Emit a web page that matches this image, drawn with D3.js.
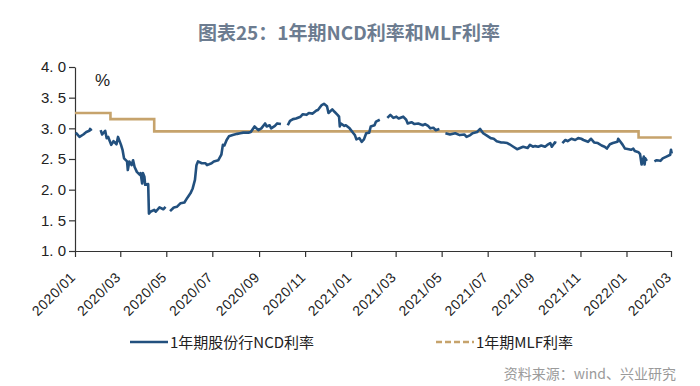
<!DOCTYPE html>
<html>
<head>
<meta charset="utf-8">
<script src="https://cdn.jsdelivr.net/npm/d3@7"></script>
<style>
  body { margin: 0; background: #fff; }
  svg { display: block; }
</style>
</head>
<body>
<svg id="chart" width="700" height="386"></svg>
<script>
// y axis ticks and x axis tick labels
var yTicks = [1.0, 1.5, 2.0, 2.5, 3.0, 3.5, 4.0];
var xTickLabels = ['2020/01', '2020/03', '2020/05', '2020/07', '2020/09', '2020/11',
  '2021/01', '2021/03', '2021/05', '2021/07', '2021/09', '2021/11', '2022/01', '2022/03'];

// 1Y joint-stock bank NCD rate, null = holiday gap
var ncd = [
  ['2020-01-02', 2.93], ['2020-01-07', 2.86], ['2020-01-12', 2.90], ['2020-01-16', 2.94],
  ['2020-01-20', 2.96], ['2020-01-21', 2.99], ['2020-01-23', 2.96], ['2020-01-28', null],
  ['2020-02-04', 2.97], ['2020-02-06', 2.90], ['2020-02-10', 2.96], ['2020-02-12', 2.84],
  ['2020-02-14', 2.86], ['2020-02-18', 2.73], ['2020-02-21', 2.79], ['2020-02-25', 2.74],
  ['2020-02-27', 2.86], ['2020-03-02', 2.73], ['2020-03-04', 2.65], ['2020-03-06', 2.51],
  ['2020-03-10', 2.46], ['2020-03-11', 2.32], ['2020-03-13', 2.46], ['2020-03-16', 2.40],
  ['2020-03-18', 2.48], ['2020-03-20', 2.37], ['2020-03-23', 2.29], ['2020-03-27', 2.24],
  ['2020-03-28', 2.27], ['2020-03-30', 2.10], ['2020-03-31', 2.27], ['2020-04-02', 2.21],
  ['2020-04-03', 2.08], ['2020-04-07', 2.09], ['2020-04-08', 1.61], ['2020-04-10', 1.64],
  ['2020-04-15', 1.67], ['2020-04-17', 1.64], ['2020-04-22', 1.71], ['2020-04-27', 1.68],
  ['2020-04-30', 1.72], ['2020-05-03', null],
  ['2020-05-06', 1.65], ['2020-05-11', 1.71], ['2020-05-15', 1.72], ['2020-05-20', 1.78],
  ['2020-05-25', 1.79], ['2020-05-29', 1.87], ['2020-06-02', 1.94], ['2020-06-05', 2.02],
  ['2020-06-08', 2.16], ['2020-06-10', 2.40], ['2020-06-12', 2.46], ['2020-06-17', 2.43],
  ['2020-06-22', 2.43], ['2020-06-24', 2.40], ['2020-06-30', 2.43], ['2020-07-03', 2.46],
  ['2020-07-09', 2.48], ['2020-07-13', 2.57], ['2020-07-15', 2.73], ['2020-07-17', 2.72],
  ['2020-07-20', 2.81], ['2020-07-23', 2.87], ['2020-07-28', 2.89], ['2020-08-03', 2.91],
  ['2020-08-07', 2.92], ['2020-08-11', 2.93], ['2020-08-18', 2.93], ['2020-08-21', 2.94],
  ['2020-08-26', 3.03], ['2020-08-31', 2.97], ['2020-09-04', 3.00], ['2020-09-09', 3.08],
  ['2020-09-11', 3.03], ['2020-09-15', 3.05], ['2020-09-17', 3.00], ['2020-09-22', 3.04],
  ['2020-09-25', 3.08], ['2020-09-30', 3.07], ['2020-10-04', null],
  ['2020-10-09', 3.05], ['2020-10-12', 3.12], ['2020-10-16', 3.15], ['2020-10-20', 3.16],
  ['2020-10-26', 3.19], ['2020-10-29', 3.23], ['2020-11-03', 3.22], ['2020-11-06', 3.25],
  ['2020-11-11', 3.24], ['2020-11-16', 3.29], ['2020-11-18', 3.30], ['2020-11-23', 3.38],
  ['2020-11-26', 3.40], ['2020-11-30', 3.36], ['2020-12-02', 3.25], ['2020-12-07', 3.31],
  ['2020-12-10', 3.27], ['2020-12-14', 3.22], ['2020-12-16', 3.19], ['2020-12-17', 3.03],
  ['2020-12-18', 3.08], ['2020-12-23', 3.04], ['2020-12-25', 3.05], ['2020-12-30', 3.00],
  ['2021-01-04', 2.92], ['2021-01-06', 2.89], ['2021-01-08', 2.82], ['2021-01-12', 2.84],
  ['2021-01-15', 2.78], ['2021-01-18', 2.82], ['2021-01-21', 2.92], ['2021-01-25', 2.93],
  ['2021-01-27', 3.03], ['2021-02-01', 3.05], ['2021-02-03', 3.11], ['2021-02-08', 3.14],
  ['2021-02-13', null],
  ['2021-02-18', 3.17], ['2021-02-22', 3.22], ['2021-02-26', 3.17], ['2021-03-02', 3.19],
  ['2021-03-05', 3.16], ['2021-03-11', 3.19], ['2021-03-15', 3.14], ['2021-03-17', 3.08],
  ['2021-03-22', 3.10], ['2021-03-26', 3.07], ['2021-03-31', 3.08], ['2021-04-06', 3.05],
  ['2021-04-09', 3.07], ['2021-04-13', 3.04], ['2021-04-16', 3.00], ['2021-04-20', 3.01],
  ['2021-04-23', 2.97], ['2021-04-28', 2.99], ['2021-05-02', null],
  ['2021-05-06', 2.92], ['2021-05-12', 2.90], ['2021-05-19', 2.92], ['2021-05-25', 2.89],
  ['2021-05-31', 2.90], ['2021-06-03', 2.86], ['2021-06-08', 2.89], ['2021-06-11', 2.92],
  ['2021-06-17', 2.94], ['2021-06-21', 2.99], ['2021-06-25', 2.92], ['2021-06-30', 2.88],
  ['2021-07-05', 2.84], ['2021-07-09', 2.83], ['2021-07-13', 2.79], ['2021-07-19', 2.77],
  ['2021-07-22', 2.77], ['2021-07-27', 2.76], ['2021-07-30', 2.74], ['2021-08-04', 2.70],
  ['2021-08-09', 2.66], ['2021-08-13', 2.68], ['2021-08-17', 2.70], ['2021-08-23', 2.68],
  ['2021-08-26', 2.73], ['2021-08-30', 2.70], ['2021-09-02', 2.71], ['2021-09-06', 2.70],
  ['2021-09-10', 2.72], ['2021-09-15', 2.70], ['2021-09-18', 2.73], ['2021-09-22', 2.76],
  ['2021-09-24', 2.70], ['2021-09-28', 2.77], ['2021-09-30', 2.76], ['2021-10-04', null],
  ['2021-10-08', 2.76], ['2021-10-12', 2.81], ['2021-10-15', 2.79], ['2021-10-20', 2.83],
  ['2021-10-25', 2.81], ['2021-10-29', 2.84], ['2021-11-02', 2.83], ['2021-11-05', 2.81],
  ['2021-11-11', 2.78], ['2021-11-15', 2.83], ['2021-11-19', 2.77], ['2021-11-24', 2.76],
  ['2021-11-29', 2.72], ['2021-12-03', 2.70], ['2021-12-06', 2.67], ['2021-12-10', 2.74],
  ['2021-12-14', 2.76], ['2021-12-20', 2.78], ['2021-12-21', 2.83], ['2021-12-24', 2.78],
  ['2021-12-27', 2.73], ['2021-12-30', 2.67], ['2022-01-04', 2.66], ['2022-01-07', 2.65],
  ['2022-01-10', 2.67], ['2022-01-12', 2.63], ['2022-01-17', 2.61], ['2022-01-19', 2.58],
  ['2022-01-21', 2.41], ['2022-01-24', 2.54], ['2022-01-25', 2.41], ['2022-01-26', 2.51],
  ['2022-01-28', 2.47], ['2022-02-02', null],
  ['2022-02-07', 2.46], ['2022-02-10', 2.48], ['2022-02-15', 2.47], ['2022-02-18', 2.51],
  ['2022-02-23', 2.54], ['2022-02-28', 2.57], ['2022-03-01', 2.65], ['2022-03-02', 2.59]
];

// 1Y MLF rate (step changes)
var mlf = [
  ['2020-01-01', 3.25], ['2020-02-17', 3.15], ['2020-04-15', 2.95],
  ['2022-01-17', 2.85], ['2022-03-02', 2.85]
];

var seriesNames = ['1年期股份行NCD利率', '1年期MLF利率'];
var colors = ['#22507e', '#c6a36c'];

var parse = d3.timeParse('%Y-%m-%d');
var parseTick = d3.timeParse('%Y/%m');

var svg = d3.select('#chart');
var plotLeft = 75, plotRight = 671, plotTop = 67, plotBottom = 251;

var x = d3.scaleTime()
  .domain([parse('2020-01-01'), parse('2022-03-01')])
  .range([plotLeft, plotRight]);
var y = d3.scaleLinear().domain([1, 4]).range([plotBottom, plotTop]);

// title
svg.append('text')
  .attr('x', 349).attr('y', 40)
  .attr('text-anchor', 'middle')
  .attr('font-family', '"Noto Sans CJK SC", "Noto Sans", sans-serif')
  .attr('font-size', 19)
  .attr('font-weight', 'bold')
  .attr('fill', '#6c7c90')
  .text('图表25：1年期NCD利率和MLF利率');

// y axis
var yAxis = d3.axisLeft(y)
  .tickValues(yTicks)
  .tickSize(6)
  .tickSizeOuter(0)
  .tickFormat(function (d) { return d.toFixed(1).replace('.', '. '); });

var yg = svg.append('g')
  .attr('transform', 'translate(' + plotLeft + ',0)')
  .call(yAxis);
yg.selectAll('text')
  .attr('font-family', 'Arial, "Liberation Sans", sans-serif')
  .attr('font-size', 15)
  .attr('fill', '#222')
  .attr('x', -9);

// x axis
var xAxis = d3.axisBottom(x)
  .tickValues(xTickLabels.map(parseTick))
  .tickSize(6)
  .tickSizeOuter(0)
  .tickFormat(d3.timeFormat('%Y/%m'));

var xg = svg.append('g')
  .attr('transform', 'translate(0,' + plotBottom + ')')
  .call(xAxis);
xg.selectAll('text')
  .attr('font-family', 'Arial, "Liberation Sans", sans-serif')
  .attr('font-size', 14)
  .attr('letter-spacing', 0.6)
  .attr('fill', '#222')
  .attr('text-anchor', 'end')
  .attr('x', 0).attr('y', 0).attr('dy', 0)
  .attr('transform', 'translate(1,27) rotate(-45)');

svg.selectAll('.domain, .tick line').attr('stroke', '#333').attr('stroke-width', 1.2);

// unit
svg.append('text')
  .attr('x', 95).attr('y', 86)
  .attr('font-family', 'Arial, "Liberation Sans", sans-serif')
  .attr('font-size', 17)
  .attr('fill', '#222')
  .text('%');

// lines
var line = d3.line()
  .defined(function (d) { return d[1] !== null; })
  .x(function (d) { return x(parse(d[0])); })
  .y(function (d) { return y(d[1]); });

var stepLine = d3.line()
  .curve(d3.curveStepAfter)
  .x(function (d) { return x(parse(d[0])); })
  .y(function (d) { return y(d[1]); });

svg.append('path')
  .datum(mlf)
  .attr('d', stepLine)
  .attr('fill', 'none')
  .attr('stroke', colors[1])
  .attr('stroke-width', 2.6);

svg.append('path')
  .datum(ncd)
  .attr('d', line)
  .attr('fill', 'none')
  .attr('stroke', colors[0])
  .attr('stroke-width', 2.6)
  .attr('stroke-linejoin', 'round');

// legend
var legend = [
  { x: 130, dash: null },
  { x: 436, dash: '6,3' }
];
legend.forEach(function (l, i) {
  svg.append('line')
    .attr('x1', l.x).attr('x2', l.x + 38)
    .attr('y1', 342).attr('y2', 342)
    .attr('stroke', colors[i])
    .attr('stroke-width', 2.6)
    .attr('stroke-dasharray', l.dash);
  svg.append('text')
    .attr('x', l.x + 40).attr('y', 347.5)
    .attr('font-family', '"Noto Sans CJK SC", sans-serif')
    .attr('font-size', 15)
    .attr('fill', '#222')
    .text(seriesNames[i]);
});

// source
svg.append('text')
  .attr('x', 676).attr('y', 379)
  .attr('text-anchor', 'end')
  .attr('font-family', '"Noto Sans CJK SC", sans-serif')
  .attr('font-size', 14)
  .attr('fill', '#9a9a9a')
  .text('资料来源：wind、兴业研究');
</script>
</body>
</html>
